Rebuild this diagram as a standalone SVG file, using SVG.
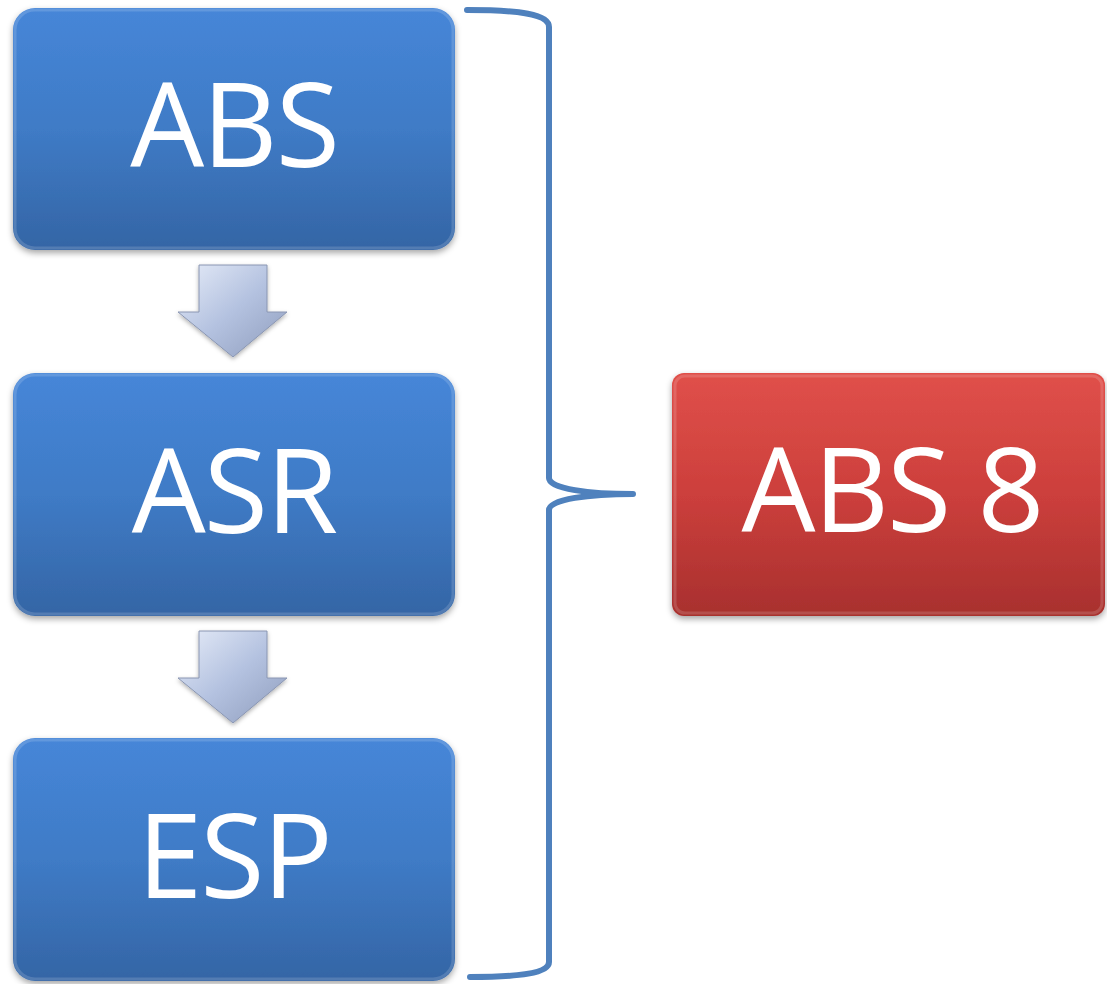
<svg xmlns="http://www.w3.org/2000/svg" width="1107" height="984" viewBox="0 0 1107 984">
<defs>
<linearGradient id="gBlue" x1="0" y1="0" x2="0" y2="1">
<stop offset="0" stop-color="#4686d8"/>
<stop offset="0.5" stop-color="#3f7bc6"/>
<stop offset="1" stop-color="#3465a5"/>
</linearGradient>
<linearGradient id="gRed" x1="0" y1="0" x2="0" y2="1">
<stop offset="0" stop-color="#e0504a"/>
<stop offset="0.5" stop-color="#cc3f3c"/>
<stop offset="1" stop-color="#a8302e"/>
</linearGradient>
<linearGradient id="gArrow" x1="0" y1="0" x2="1" y2="1">
<stop offset="0" stop-color="#e6ecf8"/>
<stop offset="0.5" stop-color="#b4c2e0"/>
<stop offset="1" stop-color="#8e9cbc"/>
</linearGradient>
<filter id="sh" x="-5%" y="-5%" width="110%" height="115%">
<feDropShadow dx="0" dy="3" stdDeviation="3" flood-color="#000" flood-opacity="0.35"/>
</filter>
<filter id="sh2" x="-10%" y="-10%" width="120%" height="130%">
<feDropShadow dx="0" dy="2" stdDeviation="2" flood-color="#000" flood-opacity="0.3"/>
</filter>
</defs>
<style>
.box{stroke:none}
.lbl{font-family:"Open Sans","Liberation Sans",sans-serif;font-size:117px;letter-spacing:-2px;fill:#ffffff;text-anchor:middle}
.arrow{fill:url(#gArrow);stroke:#8a96b2;stroke-width:1}
.brace{fill:none;stroke:#4f81bd;stroke-width:6;stroke-linecap:round;stroke-linejoin:round}
.hl{fill:none;stroke:#ffffff;stroke-opacity:0.15;stroke-width:3}
</style>
<rect width="1107" height="984" fill="#ffffff"/>
<g id="connectors">
<g id="arrow1" filter="url(#sh2)">
<path class="arrow" d="M199,265 L267,265 L267,312 L287,312 L233,357 L178,312 L199,312 Z"/>
</g>
<g id="arrow2" filter="url(#sh2)">
<path class="arrow" d="M199,631 L267,631 L267,678 L287,678 L233,723 L178,678 L199,678 Z"/>
</g>
<path id="brace" class="brace" d="M467,10 C520,10 549,14 549,27 L549,478 C549,489 590,494 633,494 C590,494 549,499 549,510 L549,962 C549,973 520,977 470,977"/>
</g>
<g id="node-abs">
<rect class="box" x="13" y="8" width="442" height="242" rx="22" fill="url(#gBlue)" filter="url(#sh)"/>
<rect class="hl" x="15" y="10" width="438" height="238" rx="20"/>
<text class="lbl" x="234" y="167">ABS</text>
</g>
<g id="node-asr">
<rect class="box" x="13" y="373" width="442" height="243" rx="22" fill="url(#gBlue)" filter="url(#sh)"/>
<rect class="hl" x="15" y="375" width="438" height="239" rx="20"/>
<text class="lbl" x="234" y="533">ASR</text>
</g>
<g id="node-esp">
<rect class="box" x="13" y="738" width="442" height="243" rx="22" fill="url(#gBlue)" filter="url(#sh)"/>
<rect class="hl" x="15" y="740" width="438" height="239" rx="20"/>
<text class="lbl" x="234" y="898">ESP</text>
</g>
<g id="node-abs8">
<rect class="box" x="672" y="373" width="433" height="243" rx="12" fill="url(#gRed)" filter="url(#sh)"/>
<rect class="hl" x="675" y="376" width="427" height="237" rx="10"/>
<text class="lbl" x="892" y="532">ABS 8</text>
</g>
</svg>
